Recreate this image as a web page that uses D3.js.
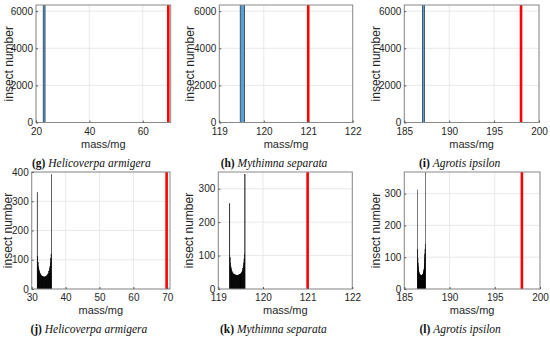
<!DOCTYPE html>
<html>
<head>
<meta charset="utf-8">
<script src="https://cdn.jsdelivr.net/npm/d3@7"></script>
<style>
  body { margin: 0; background: #fff; }
  text { font-family: "Liberation Sans", Arial, sans-serif; }
  .cap { font-family: "Liberation Serif", "Times New Roman", serif; }
</style>
</head>
<body>
<div id="chart"></div>
<script>
// ---------- data ----------
var letters = ["g", "h", "i", "j", "k", "l"];
var species = ["Helicoverpa armigera", "Mythimna separata", "Agrotis ipsilon",
               "Helicoverpa armigera", "Mythimna separata", "Agrotis ipsilon"];

// axis ranges
var xDomains = [[20, 70.5], [119, 122], [185, 200], [30, 70.8], [119, 122], [185, 200]];
var yDomains = [[0, 6330], [0, 6330], [0, 6330], [0, 400], [0, 350], [0, 368]];

// tick labels
var xTicks = [[20, 40, 60], [119, 120, 121, 122], [185, 190, 195, 200],
              [30, 40, 50, 60, 70], [119, 120, 121, 122], [185, 190, 195, 200]];
var yTicksTop = [0, 2000, 4000, 6000];
var yTicksJ = [0, 100, 200, 300, 400];
var yTicksKL = [0, 100, 200, 300];

// red threshold mass
var redMass = [69.6, 121, 198, 69.8, 121, 198];

// top row: single histogram bin [lo, hi, count] (count runs off the top)
var binG = [22.7, 23.4, 7000];
var binH = [119.47, 119.57, 7000];
var binI = [187.02, 187.25, 7000];

// bottom row: histogram range and counts
var rangeJ = [31.6, 35.9];
var countsJ = [330,112,90,78,70,64,59,55,52,50,48,46,45,44,43,42,42,41,41,41,
               41,41,42,42,43,44,45,46,48,50,52,55,59,64,70,78,90,104,118,392];
var rangeK = [119.25, 119.6];
var countsK = [255,95,78,68,62,57,53,50,48,46,45,44,43,43,42,42,42,41,41,41,
               41,41,42,42,42,43,43,44,45,46,48,50,53,57,62,68,78,90,105,342];
var rangeL = [186.45, 187.35];
var countsL = [312,125,95,80,70,63,58,54,51,49,47,46,45,44,44,43,43,43,43,43,
               43,43,43,44,44,45,46,47,49,51,54,58,63,70,80,95,110,125,140,368];

// ---------- layout ----------
var W = 550, H = 337;
var boxes = [
  {x0: 36, x1: 170.7, y0: 5, y1: 122.5, yl: 23.5},
  {x0: 219.3, x1: 352.7, y0: 5, y1: 122.5, yl: 25.5},
  {x0: 404.3, x1: 539, y0: 5, y1: 122.5, yl: 24.5},
  {x0: 31.7, x1: 170, y0: 172, y1: 289, yl: 20},
  {x0: 218.3, x1: 352.3, y0: 172, y1: 289, yl: 25.5},
  {x0: 404.3, x1: 540, y0: 172, y1: 289, yl: 24}
];

function toBins(range, counts) {
  var step = (range[1] - range[0]) / counts.length;
  return counts.map(function(c, i) {
    return [range[0] + i * step, range[0] + (i + 1) * step, c];
  });
}

var panels = [
  {bins: [binG], yTicks: yTicksTop, fill: "#5a9fd4", stroke: "#1d2f40"},
  {bins: [binH], yTicks: yTicksTop, fill: "#5a9fd4", stroke: "#1d2f40"},
  {bins: [binI], yTicks: yTicksTop, fill: "#5a9fd4", stroke: "#1d2f40"},
  {bins: toBins(rangeJ, countsJ), yTicks: yTicksJ, fill: "#000", stroke: "#000"},
  {bins: toBins(rangeK, countsK), yTicks: yTicksKL, fill: "#000", stroke: "#000"},
  {bins: toBins(rangeL, countsL), yTicks: yTicksKL, fill: "#000", stroke: "#000"}
];

var svg = d3.select("#chart").append("svg")
  .attr("width", W)
  .attr("height", H);

panels.forEach(function(p, i) {
  var b = boxes[i];
  var x = d3.scaleLinear().domain(xDomains[i]).range([b.x0, b.x1]);
  var y = d3.scaleLinear().domain(yDomains[i]).range([b.y1, b.y0]);

  var g = svg.append("g");

  g.append("clipPath").attr("id", "clip" + i)
    .append("rect")
      .attr("x", b.x0).attr("y", b.y0)
      .attr("width", b.x1 - b.x0).attr("height", b.y1 - b.y0);

  // grid
  g.selectAll(".gx").data(xTicks[i]).enter().append("line")
    .attr("x1", d => x(d)).attr("x2", d => x(d))
    .attr("y1", b.y0).attr("y2", b.y1)
    .attr("stroke", "#e3e3e3").attr("stroke-width", 0.8);
  g.selectAll(".gy").data(p.yTicks).enter().append("line")
    .attr("x1", b.x0).attr("x2", b.x1)
    .attr("y1", d => y(d)).attr("y2", d => y(d))
    .attr("stroke", "#e3e3e3").attr("stroke-width", 0.8);

  var plot = g.append("g").attr("clip-path", "url(#clip" + i + ")");

  // histogram bars
  plot.selectAll("rect.bar").data(p.bins).enter().append("rect")
    .attr("class", "bar")
    .attr("x", d => x(d[0]))
    .attr("width", d => Math.max(0.1, x(d[1]) - x(d[0])))
    .attr("y", d => y(d[2]))
    .attr("height", d => y(0) - y(d[2]))
    .attr("fill", p.fill)
    .attr("stroke", p.stroke)
    .attr("stroke-width", i < 3 ? 0.7 : 0.4);

  // red threshold line
  plot.append("line")
    .attr("x1", x(redMass[i])).attr("x2", x(redMass[i]))
    .attr("y1", y(yDomains[i][0])).attr("y2", y(yDomains[i][1]))
    .attr("stroke", "#ff0000").attr("stroke-width", 2.6);

  // box
  g.append("rect")
    .attr("x", b.x0).attr("y", b.y0)
    .attr("width", b.x1 - b.x0).attr("height", b.y1 - b.y0)
    .attr("fill", "none").attr("stroke", "#8a8a8a").attr("stroke-width", 1);

  // x axis
  var xa = g.append("g").attr("transform", "translate(0," + b.y1 + ")")
    .call(d3.axisBottom(x).tickValues(xTicks[i]).tickSize(-2).tickPadding(5)
      .tickFormat(d3.format("d")));
  xa.select(".domain").remove();
  xa.selectAll("line").attr("stroke", "#555");
  xa.selectAll("text").attr("font-size", "10px").attr("fill", "#262626")
    .attr("font-family", "'Liberation Sans', Arial, sans-serif");

  // y axis
  var ya = g.append("g").attr("transform", "translate(" + b.x0 + ",0)")
    .call(d3.axisLeft(y).tickValues(p.yTicks).tickSize(-2).tickPadding(3)
      .tickFormat(d3.format("d")));
  ya.select(".domain").remove();
  ya.selectAll("line").attr("stroke", "#555");
  ya.selectAll("text").attr("font-size", "10px").attr("fill", "#262626")
    .attr("font-family", "'Liberation Sans', Arial, sans-serif")
    .attr("dy", "0.3em");

  // labels
  g.append("text")
    .attr("x", (b.x0 + b.x1) / 2).attr("y", b.y1 + 25)
    .attr("text-anchor", "middle").attr("font-size", "11px").attr("fill", "#262626")
    .text("mass/mg");

  g.append("text")
    .attr("transform", "translate(" + (b.x0 - b.yl) + "," + ((b.y0 + b.y1) / 2) + ") rotate(-90)")
    .attr("text-anchor", "middle").attr("font-size", "12px").attr("fill", "#262626")
    .text("insect number");

  var cap = g.append("text").attr("class", "cap")
    .attr("x", (b.x0 + b.x1) / 2 - 12).attr("y", b.y1 + 44)
    .attr("text-anchor", "middle").attr("font-size", "11.5px").attr("fill", "#111");
  cap.append("tspan").attr("font-weight", "bold").text("(" + letters[i] + ")");
  cap.append("tspan").text(" ");
  cap.append("tspan").attr("font-style", "italic").text(species[i]);
});
</script>
</body>
</html>
